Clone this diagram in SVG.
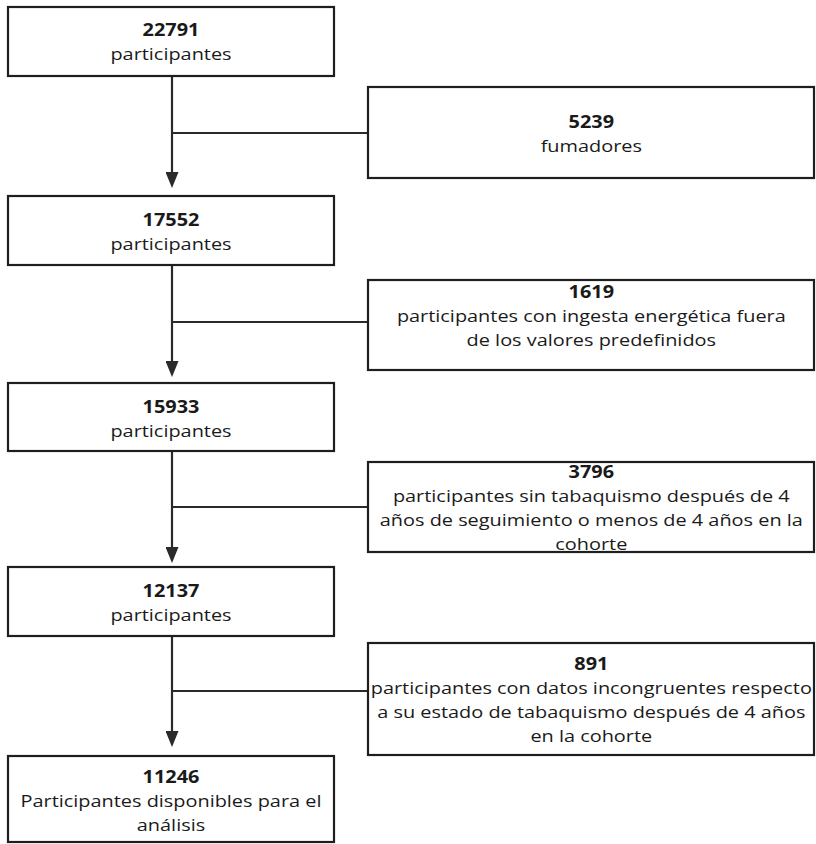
<svg xmlns="http://www.w3.org/2000/svg" width="816" height="844" viewBox="0 0 816 844">
<style>
.box{fill:#fff;stroke:#1e1e1e;stroke-width:2.2}
.t{font-family:"Open Sans","Noto Sans",sans-serif;font-size:17px;fill:#1a1a1a;text-anchor:middle}
.b{font-weight:bold}
.c{fill:none;stroke:#2a2a2a;stroke-width:2.2}
</style>
<defs>
<marker id="ah" markerUnits="userSpaceOnUse" markerWidth="16" markerHeight="13" refX="10" refY="6.5" orient="auto" viewBox="0 0 16 13">
<path d="M0,0 L16,6.5 L0,13 z" fill="#2a2a2a"/>
</marker>
</defs>
<rect width="816" height="844" fill="#fff"/>
<g id="connectors">
<path class="c" d="M172,76 V182" marker-end="url(#ah)"/>
<path class="c" d="M172,133 H368"/>
<path class="c" d="M172,265 V371" marker-end="url(#ah)"/>
<path class="c" d="M172,322 H368"/>
<path class="c" d="M172,451 V557" marker-end="url(#ah)"/>
<path class="c" d="M172,507 H368"/>
<path class="c" d="M172,636 V741" marker-end="url(#ah)"/>
<path class="c" d="M172,691 H368"/>
</g>
<g id="n1">
<rect class="box" x="8" y="7" width="326" height="69"/>
<g transform="scale(1.17 1)">
<text class="t b" x="146.15" y="36">22791</text>
<text class="t" x="146.15" y="60">participantes</text>
</g>
</g>
<g id="r1">
<rect class="box" x="368" y="87" width="446" height="91"/>
<g transform="scale(1.17 1)">
<text class="t b" x="505.4" y="128">5239</text>
<text class="t" x="505.4" y="152">fumadores</text>
</g>
</g>
<g id="n2">
<rect class="box" x="8" y="196" width="326" height="69"/>
<g transform="scale(1.17 1)">
<text class="t b" x="146.15" y="226">17552</text>
<text class="t" x="146.15" y="250">participantes</text>
</g>
</g>
<g id="r2">
<rect class="box" x="368" y="280" width="446" height="90"/>
<g transform="scale(1.17 1)">
<text class="t b" x="505.4" y="298">1619</text>
<text class="t" x="505.4" y="322">participantes con ingesta energética fuera</text>
<text class="t" x="505.4" y="346">de los valores predefinidos</text>
</g>
</g>
<g id="n3">
<rect class="box" x="8" y="383" width="326" height="68"/>
<g transform="scale(1.17 1)">
<text class="t b" x="146.15" y="413">15933</text>
<text class="t" x="146.15" y="437">participantes</text>
</g>
</g>
<g id="r3">
<rect class="box" x="368" y="462" width="446" height="90"/>
<g transform="scale(1.17 1)">
<text class="t b" x="505.4" y="478">3796</text>
<text class="t" x="505.4" y="502">participantes sin tabaquismo después de 4</text>
<text class="t" x="505.4" y="526">años de seguimiento o menos de 4 años en la</text>
<text class="t" x="505.4" y="550">cohorte</text>
</g>
</g>
<g id="n4">
<rect class="box" x="8" y="567" width="326" height="69"/>
<g transform="scale(1.17 1)">
<text class="t b" x="146.15" y="597">12137</text>
<text class="t" x="146.15" y="621">participantes</text>
</g>
</g>
<g id="r4">
<rect class="box" x="368" y="643" width="446" height="112"/>
<g transform="scale(1.17 1)">
<text class="t b" x="505.4" y="670">891</text>
<text class="t" x="505.4" y="694">participantes con datos incongruentes respecto</text>
<text class="t" x="505.4" y="718">a su estado de tabaquismo después de 4 años</text>
<text class="t" x="505.4" y="742">en la cohorte</text>
</g>
</g>
<g id="n5">
<rect class="box" x="8" y="756" width="326" height="86"/>
<g transform="scale(1.17 1)">
<text class="t b" x="146.15" y="783">11246</text>
<text class="t" x="146.15" y="807">Participantes disponibles para el</text>
<text class="t" x="146.15" y="831">análisis</text>
</g>
</g>
</svg>
